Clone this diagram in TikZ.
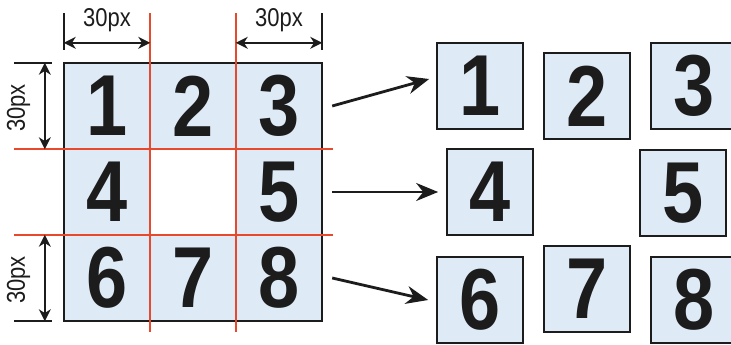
\documentclass[tikz,border=0pt]{standalone}
\usepackage{fontspec}
\usepackage{graphicx}
\setmainfont{Liberation Sans}
\usetikzlibrary{arrows.meta}
\definecolor{cellblue}{RGB}{222,234,246}
\definecolor{cutred}{RGB}{232,72,44}
\definecolor{inkgray}{RGB}{28,28,28}
\newcommand{\bignum}{\fontsize{84}{84}\selectfont\bfseries}
\newcommand{\dimfont}{\fontsize{25}{25}\selectfont}
\newcommand{\slim}[1]{\scalebox{0.88}[1.03]{#1}}
\tikzset{
	cell/.style={fill=cellblue,minimum size=86pt,inner sep=0pt,font=\bignum,text=inkgray},
	tile/.style={cell,draw=inkgray,line width=1.7pt},
	cutline/.style={draw=cutred,line width=1.8pt},
	dimline/.style={draw=inkgray,line width=1.7pt},
	dimarrow/.style={dimline,{Stealth[length=12pt,width=12pt]}-{Stealth[length=12pt,width=12pt]}},
	bigarrow/.style={draw=inkgray,line width=2.8pt,-{Stealth[length=22pt,width=18pt]}},
	dimlabel/.style={font=\dimfont,text=inkgray,anchor=base,inner sep=0pt},
}
\begin{document}
\begin{tikzpicture}[x=1pt,y=-1pt]
	\useasboundingbox(0,0)rectangle(731,345);
	\clip(0,0)rectangle(731,345);
	% cut-up grid
	\foreach \n/\x/\y in {1/107/106,2/193/106,3/279/106,4/107/192,5/279/192,6/107/278,7/193/278,8/279/278}
		\node[cell](c\n)at(\x,\y){\slim{\n}};
	\draw[dimline](c1.north west)rectangle(c8.south east);
	\draw[cutline]([yshift=50pt]c1.north east)--([yshift=-11pt]c6.south east);
	\draw[cutline]([yshift=50pt]c3.north west)--([yshift=-11pt]c8.south west);
	\draw[cutline]([xshift=-50pt]c1.south west)--([xshift=11pt]c3.south east);
	\draw[cutline]([xshift=-50pt]c6.north west)--([xshift=11pt]c8.north east);
	% dimensions
	\draw[dimline]([yshift=13pt]c1.north west)--([yshift=50pt]c1.north west);
	\draw[dimarrow]([yshift=20pt]c1.north west)--([yshift=20pt]c1.north east);
	\node[dimlabel](w1)at([yshift=36pt]c1.north){\slim{30px}};
	\draw[dimline]([yshift=13pt]c3.north east)--([yshift=50pt]c3.north east);
	\draw[dimarrow]([yshift=20pt]c3.north west)--([yshift=20pt]c3.north east);
	\node[dimlabel](w3)at([yshift=36pt]c3.north){\slim{30px}};
	\draw[dimline]([xshift=-12pt]c1.north west)--([xshift=-50pt]c1.north west);
	\draw[dimarrow]([xshift=-19pt]c1.north west)--([xshift=-19pt]c1.south west);
	\node[dimlabel,rotate=90](h1)at([xshift=-39pt,yshift=-2pt]c1.west){\slim{30px}};
	\draw[dimline]([xshift=-12pt]c6.south west)--([xshift=-50pt]c6.south west);
	\draw[dimarrow]([xshift=-19pt]c6.north west)--([xshift=-19pt]c6.south west);
	\node[dimlabel,rotate=90](h6)at([xshift=-39pt,yshift=-2pt]c6.west){\slim{30px}};
	% loose tiles
	\foreach \n/\x/\y in {1/480/86,2/587/96,3/694/86,4/490/192,5/683/193,6/480/300,7/587/289,8/694/300}
		\node[tile](t\n)at(\x,\y){\slim{\n}};
	\draw[bigarrow]([xshift=10pt]c3.east)--([xshift=-7pt,yshift=7pt]t1.west);
	\draw[bigarrow]([xshift=10pt]c5.east)--([xshift=-8pt]t4.west);
	\draw[bigarrow]([xshift=10pt]c8.east)--([xshift=-8pt]t6.west);
\end{tikzpicture}
\end{document}
